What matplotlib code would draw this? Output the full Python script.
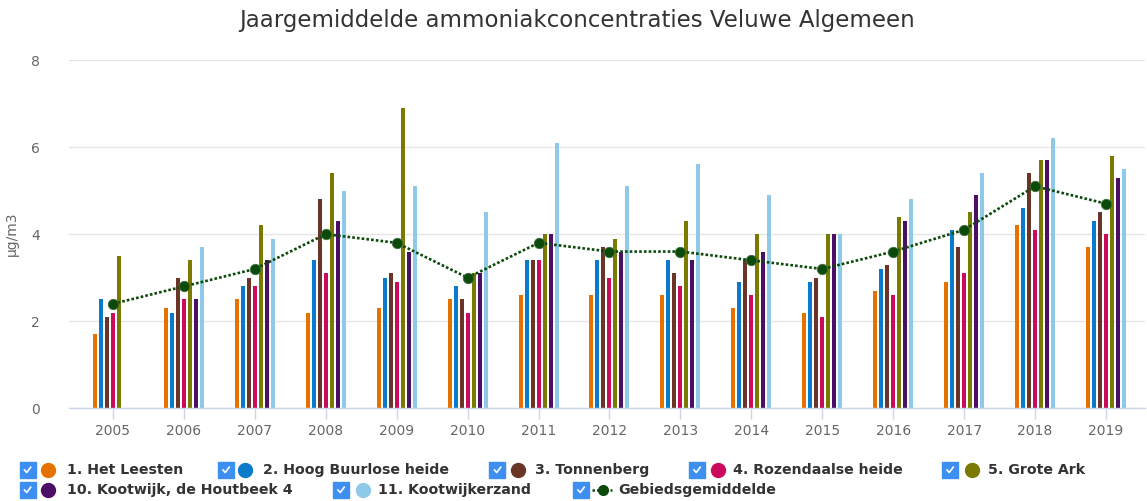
import matplotlib.pyplot as plt
import numpy as np
from matplotlib.lines import Line2D

# jaargemiddelden per meetpunt (ug/m3)
years = ['2005', '2006', '2007', '2008', '2009', '2010', '2011', '2012',
         '2013', '2014', '2015', '2016', '2017', '2018', '2019']
het_leesten = [1.7, 2.3, 2.5, 2.2, 2.3, 2.5, 2.6, 2.6, 2.6, 2.3, 2.2, 2.7, 2.9, 4.2, 3.7]
hoog_buurlose_heide = [2.5, 2.2, 2.8, 3.4, 3.0, 2.8, 3.4, 3.4, 3.4, 2.9, 2.9, 3.2, 4.1, 4.6, 4.3]
tonnenberg = [2.1, 3.0, 3.0, 4.8, 3.1, 2.5, 3.4, 3.7, 3.1, 3.4, 3.0, 3.3, 3.7, 5.4, 4.5]
rozendaalse_heide = [2.2, 2.5, 2.8, 3.1, 2.9, 2.2, 3.4, 3.0, 2.8, 2.6, 2.1, 2.6, 3.1, 4.1, 4.0]
grote_ark = [3.5, 3.4, 4.2, 5.4, 6.9, 3.1, 4.0, 3.9, 4.3, 4.0, 4.0, 4.4, 4.5, 5.7, 5.8]
kootwijk_houtbeek = [np.nan, 2.5, 3.4, 4.3, 3.6, 3.1, 4.0, 3.6, 3.4, 3.6, 4.0, 4.3, 4.9, 5.7, 5.3]
kootwijkerzand = [np.nan, 3.7, 3.9, 5.0, 5.1, 4.5, 6.1, 5.1, 5.6, 4.9, 4.0, 4.8, 5.4, 6.2, 5.5]
gebiedsgemiddelde = [2.4, 2.8, 3.2, 4.0, 3.8, 3.0, 3.8, 3.6, 3.6, 3.4, 3.2, 3.6, 4.1, 5.1, 4.7]

series_names = ['1. Het Leesten', '2. Hoog Buurlose heide', '3. Tonnenberg',
                '4. Rozendaalse heide', '5. Grote Ark',
                '10. Kootwijk, de Houtbeek 4', '11. Kootwijkerzand']
series_values = [het_leesten, hoog_buurlose_heide, tonnenberg, rozendaalse_heide,
                 grote_ark, kootwijk_houtbeek, kootwijkerzand]
colors = ['#e57200', '#0a7acb', '#6a3526', '#cc0a5c', '#7a7a00', '#4b1066', '#8ecae8']
line_color = '#0b4a0b'

W, H = 1147, 501
fig = plt.figure(figsize=(W / 100, H / 100), dpi=100)
ax = fig.add_axes([69 / W, 1 - 408.3 / H, (1145 - 69) / W, (408.3 - 60) / H])

x = np.arange(len(years))
pitch = 6 / 70.9
bar_w = 4 / 70.9
for i, (vals, col) in enumerate(zip(series_values, colors)):
    ax.bar(x + (i - 3) * pitch, vals, width=bar_w, color=col, zorder=2)

ax.plot(x, gebiedsgemiddelde, color=line_color, linewidth=1.9,
        linestyle=(0, (1, 0.8)), marker='o', markersize=7.5,
        markerfacecolor=line_color, markeredgecolor='#3f6f3f',
        markeredgewidth=0.6, zorder=3)

# assen
ax.set_xlim(-0.62, 14.55)
ax.set_ylim(0, 8)
ax.set_yticks([0, 2, 4, 6, 8])
ax.set_xticks(x)
ax.set_xticklabels(years)
ax.yaxis.grid(True, color='#e6e6e6', linewidth=1, zorder=0)
ax.set_axisbelow(True)
for s in ['top', 'right', 'left']:
    ax.spines[s].set_visible(False)
ax.spines['bottom'].set_color('#ccd6eb')
ax.spines['bottom'].set_linewidth(1)
ax.tick_params(axis='x', colors='#666666', length=8, width=1, labelsize=10, pad=3)
ax.tick_params(axis='x', color='#ccd6eb')
ax.tick_params(axis='y', length=0, labelcolor='#666666', labelsize=10, pad=21)
ax.set_ylabel('µg/m3', color='#666666', fontsize=10)
ax.yaxis.set_label_coords(-(69 - 19) / (1145 - 69), 0.5)

fig.text(577 / W, 1 - 20 / H, 'Jaargemiddelde ammoniakconcentraties Veluwe Algemeen',
         ha='center', va='center', fontsize=16.5, color='#333333')


# legenda met checkboxjes, handmatig getekend
def fx(px):
    return px / W


def fy(py):
    return 1 - py / H


def checkbox(cx, cy):
    fig.add_artist(Line2D([fx(cx)], [fy(cy)], marker='s', markersize=11,
                          color='#3d8ff2', transform=fig.transFigure))
    fig.add_artist(Line2D([fx(cx - 3), fx(cx - 0.8), fx(cx + 3.2)],
                          [fy(cy), fy(cy + 2.5), fy(cy - 2.8)],
                          color='white', linewidth=1.2, transform=fig.transFigure))


legend_items = [
    (27.5, 470, 47.7, 66.7),
    (226, 470, 245, 263),
    (497.5, 470, 518, 535),
    (697, 470, 718, 733),
    (950, 470, 972, 988),
    (27.5, 490, 47.7, 66.7),
    (341, 490, 363, 378),
]
for (cbx, cy, mx, tx), name, col in zip(legend_items, series_names, colors):
    checkbox(cbx, cy)
    fig.add_artist(Line2D([fx(mx)], [fy(cy)], marker='o', markersize=10,
                          color=col, transform=fig.transFigure))
    fig.text(fx(tx), fy(cy), name, ha='left', va='center', fontsize=10.2,
             fontweight='bold', color='#333333')

checkbox(581, 490)
fig.add_artist(Line2D([fx(592), fx(612)], [fy(490), fy(490)], color=line_color,
                      linewidth=1.8, linestyle=(0, (1, 0.8)), transform=fig.transFigure))
fig.add_artist(Line2D([fx(603)], [fy(490)], marker='o', markersize=7,
                      color=line_color, transform=fig.transFigure))
fig.text(fx(618), fy(490), 'Gebiedsgemiddelde', ha='left', va='center', fontsize=10.2,
         fontweight='bold', color='#333333')

plt.savefig('out.png', dpi=100)
